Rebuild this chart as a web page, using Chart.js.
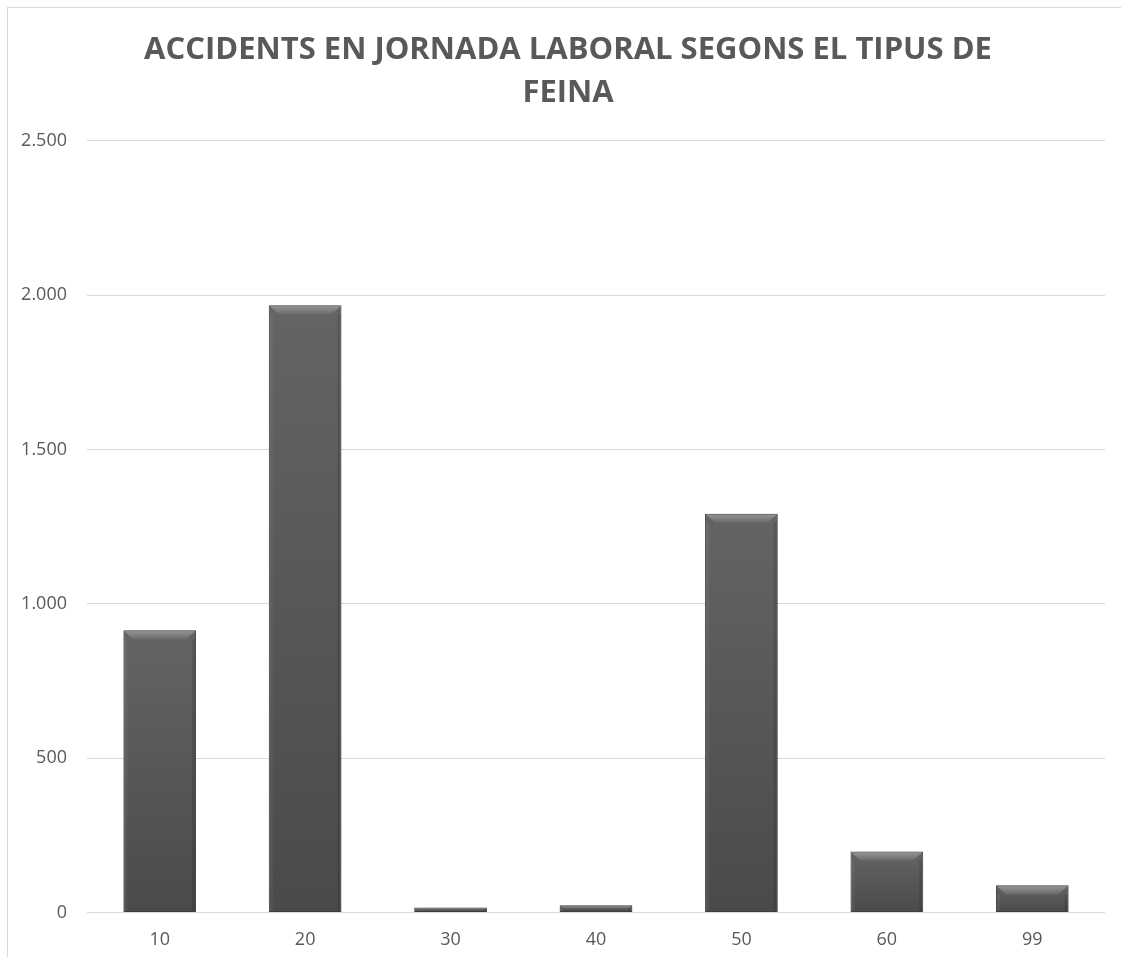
<!DOCTYPE html>
<html>
<head>
<meta charset="utf-8">
<script src="https://cdn.jsdelivr.net/npm/chart.js@4.4.1/dist/chart.umd.min.js"></script>
<style>
  html, body { margin: 0; padding: 0; background: #fff; overflow: hidden; }
  #frame { position: absolute; left: 7px; top: 7px; width: 1200px; height: 1000px; border: 1px solid #d9d9d9; box-sizing: border-box; }
  #wrap { position: absolute; left: 0; top: 0; width: 1121px; height: 957px; }
</style>
</head>
<body>
<div id="frame"></div>
<div id="wrap"><canvas id="chart"></canvas></div>
<script>
// Data
const categories = ["10", "20", "30", "40", "50", "60", "99"];
const accidents = [914, 1967, 16, 23, 1292, 197, 88];
const yMax = 2500;
const yStep = 500;

const textColor = "#595959";

// number format 2.500 (Catalan)
const fmt = v => v.toLocaleString("de-DE");

// gradient fill + bevel on each bar, painted over the plain bar
const bevelPlugin = {
  id: "bevel",
  afterLayout(chart) {
    // centre the title on the whole frame, not the padded box
    if (chart.titleBlock) chart.titleBlock.left += 11;
  },
  afterDatasetsDraw(chart) {
    const c = chart.ctx;
    chart.getDatasetMeta(0).data.forEach(bar => {
      const left = bar.x - bar.width / 2;
      const right = bar.x + bar.width / 2;
      const top = bar.y;
      const h = bar.base - bar.y;
      if (!(h > 0)) return;
      c.save();
      // body
      let g = c.createLinearGradient(0, top, 0, bar.base);
      g.addColorStop(0, "#646464");
      g.addColorStop(1, "#4a4a4a");
      c.fillStyle = g;
      c.fillRect(left + 1, top + 1, bar.width - 2, h - 2);
      const b = Math.min(9, h / 2);
      if (b >= 1) {
        // top bevel
        g = c.createLinearGradient(0, top, 0, top + b);
        g.addColorStop(0, "#989898");
        g.addColorStop(1, "#6a6a6a");
        c.fillStyle = g;
        c.beginPath();
        c.moveTo(left + 1, top + 1);
        c.lineTo(right - 1, top + 1);
        c.lineTo(right - 1 - b, top + b);
        c.lineTo(left + 1 + b, top + b);
        c.closePath();
        c.fill();
        // side edges
        c.fillStyle = "rgba(0,0,0,0.12)";
        c.fillRect(right - 4, top + b, 3, h - b - 1);
        c.fillStyle = "rgba(255,255,255,0.05)";
        c.fillRect(left + 1, top + b, 3, h - b - 1);
      }
      c.restore();
    });
  }
};

new Chart(document.getElementById("chart"), {
  type: "bar",
  data: {
    labels: categories,
    datasets: [{
      label: "Accidents",
      data: accidents,
      backgroundColor: "#555555",
      borderColor: "#3c3c3c",
      borderWidth: 1,
      borderSkipped: false,
      categoryPercentage: 1,
      barPercentage: 0.5
    }]
  },
  options: {
    responsive: true,
    maintainAspectRatio: false,
    animation: false,
    layout: { padding: { top: 20, right: 16, bottom: -11, left: 20 } },
    plugins: {
      legend: { display: false },
      tooltip: { enabled: false },
      title: {
        display: true,
        text: ["ACCIDENTS EN JORNADA LABORAL SEGONS EL TIPUS DE", "FEINA"],
        color: textColor,
        font: { family: "'Open Sans', sans-serif", size: 31, weight: "bold", lineHeight: 1.4 },
        padding: { top: 8, bottom: 26 }
      }
    },
    scales: {
      x: {
        grid: { display: false, drawTicks: false },
        border: { display: false },
        ticks: { color: textColor, font: { family: "'Open Sans', sans-serif", size: 18 }, padding: 17 }
      },
      y: {
        min: 0,
        max: yMax,
        afterFit: scale => { scale.width = 67; },
        grid: { color: "#d9d9d9", lineWidth: 1, drawTicks: false },
        border: { display: false },
        ticks: {
          stepSize: yStep,
          color: textColor,
          padding: 20,
          font: { family: "'Open Sans', sans-serif", size: 18 },
          callback: v => fmt(v)
        }
      }
    }
  },
  plugins: [bevelPlugin]
});
</script>
</body>
</html>
